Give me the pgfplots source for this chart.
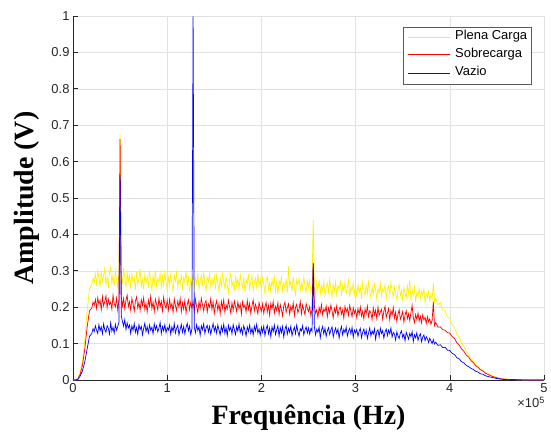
\documentclass[border=0pt]{standalone}
\usepackage{fontspec}
\setmainfont{Liberation Sans}
\newfontfamily\timesfont{Liberation Serif}
\usepackage{pgfplots}
\usepackage{pgfplotstable}
\pgfplotsset{compat=1.18}
\definecolor{axgray}{RGB}{38,38,38}
\definecolor{boxgray}{RGB}{90,90,90}
\definecolor{gridgray}{RGB}{225,225,225}

% f in kHz, y = Plena Carga, r = Sobrecarga, b = Vazio
\pgfplotstableread{
f y r b
0 0 0 0
2.5 0 0 0
5 0.003 0.002 0.001
7.5 0.02 0.015 0.01
10 0.05 0.04 0.025
12.5 0.11 0.085 0.05
15 0.19 0.145 0.085
17.5 0.25 0.19 0.12
20 0.262 0.198 0.128
21.25 0.279 0.214 0.141
22.5 0.268 0.205 0.133
23.75 0.293 0.221 0.149
25 0.259 0.197 0.137
26.25 0.301 0.226 0.128
27.5 0.282 0.208 0.152
28.75 0.255 0.219 0.135
30 0.297 0.193 0.146
31.25 0.271 0.229 0.127
32.5 0.288 0.204 0.154
33.75 0.306 0.216 0.138
35 0.262 0.231 0.131
36.25 0.284 0.199 0.149
37.5 0.252 0.222 0.142
38.75 0.295 0.207 0.126
40 0.311 0.214 0.157
41.25 0.266 0.195 0.134
42.5 0.289 0.233 0.145
43.75 0.258 0.210 0.129
45 0.300 0.201 0.153
46.25 0.274 0.225 0.137
47.5 0.254 0.192 0.147
48.75 0.292 0.218 0.158
50 0.676 0.662 0.563
51.25 0.298 0.229 0.176
52.5 0.263 0.203 0.161
53.75 0.307 0.224 0.148
55 0.281 0.196 0.166
56.25 0.256 0.220 0.139
57.5 0.296 0.233 0.157
58.75 0.270 0.201 0.143
60 0.287 0.215 0.151
61.25 0.251 0.192 0.128
62.5 0.294 0.224 0.149
63.75 0.268 0.209 0.136
65 0.283 0.189 0.155
66.25 0.247 0.217 0.131
67.5 0.299 0.228 0.144
68.75 0.262 0.198 0.126
70 0.280 0.213 0.152
71.25 0.305 0.191 0.139
72.5 0.258 0.221 0.147
73.75 0.276 0.205 0.124
75 0.249 0.226 0.141
76.25 0.291 0.194 0.156
77.5 0.266 0.211 0.133
78.75 0.284 0.187 0.146
80 0.253 0.219 0.129
81.25 0.297 0.203 0.151
82.5 0.272 0.230 0.137
83.75 0.245 0.196 0.145
85 0.288 0.214 0.127
86.25 0.264 0.188 0.154
87.5 0.301 0.222 0.138
88.75 0.257 0.208 0.149
90 0.279 0.193 0.132
91.25 0.268 0.225 0.143
92.5 0.293 0.201 0.158
93.75 0.250 0.216 0.128
95 0.286 0.190 0.147
96.25 0.261 0.227 0.135
97.5 0.296 0.206 0.152
98.75 0.269 0.197 0.130
100 0.248 0.218 0.144
101.25 0.283 0.192 0.137
102.5 0.259 0.221 0.151
103.75 0.292 0.199 0.126
105 0.265 0.210 0.146
106.25 0.244 0.186 0.133
107.5 0.287 0.223 0.155
108.75 0.272 0.204 0.129
110 0.296 0.191 0.142
111.25 0.255 0.217 0.150
112.5 0.278 0.200 0.124
113.75 0.263 0.224 0.139
115 0.290 0.188 0.153
116.25 0.248 0.212 0.131
117.5 0.281 0.195 0.147
118.75 0.269 0.219 0.127
120 0.299 0.184 0.144
121.25 0.257 0.207 0.156
122.5 0.285 0.220 0.135
123.75 0.242 0.193 0.148
125 0.276 0.213 0.125
126.25 0.262 0.198 0.141
127.5 0.291 0.216 1.0
128.75 0.253 0.189 0.145
130 0.280 0.222 0.130
131.25 0.266 0.202 0.152
132.5 0.294 0.185 0.136
133.75 0.250 0.215 0.146
135 0.274 0.197 0.123
136.25 0.288 0.224 0.149
137.5 0.258 0.206 0.138
138.75 0.297 0.190 0.154
140 0.264 0.211 0.128
141.25 0.245 0.218 0.143
142.5 0.283 0.187 0.150
143.75 0.270 0.209 0.132
145 0.292 0.200 0.147
146.25 0.255 0.223 0.126
147.5 0.279 0.194 0.141
148.75 0.261 0.214 0.155
150 0.286 0.183 0.134
151.25 0.249 0.205 0.146
152.5 0.289 0.218 0.129
153.75 0.266 0.191 0.151
155 0.243 0.210 0.137
156.25 0.281 0.182 0.124
157.5 0.258 0.216 0.148
158.75 0.292 0.198 0.133
160 0.270 0.220 0.153
161.25 0.251 0.186 0.128
162.5 0.284 0.207 0.144
163.75 0.262 0.195 0.122
165 0.239 0.219 0.150
166.25 0.277 0.201 0.136
167.5 0.294 0.184 0.145
168.75 0.256 0.212 0.127
170 0.272 0.192 0.152
171.25 0.245 0.217 0.139
172.5 0.287 0.203 0.125
173.75 0.260 0.188 0.147
175 0.279 0.214 0.134
176.25 0.247 0.196 0.154
177.5 0.290 0.209 0.130
178.75 0.268 0.181 0.143
180 0.253 0.215 0.126
181.25 0.283 0.199 0.149
182.5 0.241 0.206 0.137
183.75 0.275 0.187 0.121
185 0.263 0.218 0.146
186.25 0.291 0.194 0.133
187.5 0.250 0.211 0.151
188.75 0.271 0.183 0.128
190 0.286 0.204 0.142
191.25 0.244 0.220 0.124
192.5 0.267 0.190 0.148
193.75 0.280 0.208 0.135
195 0.255 0.197 0.153
196.25 0.293 0.182 0.129
197.5 0.259 0.213 0.140
198.75 0.276 0.200 0.123
200 0.248 0.189 0.145
201.25 0.281 0.209 0.131
202.5 0.262 0.183 0.148
203.75 0.238 0.201 0.122
205 0.273 0.213 0.140
206.25 0.285 0.187 0.150
207.5 0.249 0.205 0.127
208.75 0.267 0.178 0.143
210 0.240 0.211 0.119
211.25 0.278 0.196 0.146
212.5 0.256 0.215 0.133
213.75 0.283 0.184 0.151
215 0.244 0.202 0.125
216.25 0.269 0.191 0.138
217.5 0.235 0.212 0.149
218.75 0.274 0.180 0.121
220 0.261 0.207 0.144
221.25 0.282 0.193 0.130
222.5 0.246 0.176 0.147
223.75 0.266 0.204 0.118
225 0.252 0.214 0.139
226.25 0.279 0.186 0.150
227.5 0.238 0.198 0.126
228.75 0.312 0.209 0.142
230 0.258 0.181 0.131
231.25 0.271 0.203 0.148
232.5 0.242 0.190 0.122
233.75 0.284 0.212 0.136
235 0.255 0.177 0.145
236.25 0.236 0.200 0.127
237.5 0.276 0.208 0.151
238.75 0.263 0.185 0.133
240 0.280 0.195 0.120
241.25 0.245 0.215 0.141
242.5 0.268 0.182 0.135
243.75 0.250 0.206 0.149
245 0.283 0.193 0.124
246.25 0.260 0.179 0.137
247.5 0.241 0.210 0.146
248.75 0.272 0.197 0.129
250 0.254 0.188 0.143
251.25 0.274 0.202 0.126
252.5 0.238 0.176 0.141
253.75 0.262 0.196 0.134
255 0.440 0.322 0.320
256.25 0.257 0.205 0.146
257.5 0.229 0.183 0.124
258.75 0.268 0.193 0.139
260 0.247 0.172 0.131
261.25 0.276 0.199 0.145
262.5 0.236 0.186 0.116
263.75 0.259 0.207 0.137
265 0.244 0.179 0.147
266.25 0.271 0.195 0.127
267.5 0.232 0.188 0.142
268.75 0.255 0.203 0.120
270 0.267 0.174 0.135
271.25 0.241 0.198 0.144
272.5 0.277 0.184 0.125
273.75 0.250 0.206 0.138
275 0.228 0.190 0.146
276.25 0.263 0.171 0.118
277.5 0.245 0.197 0.133
278.75 0.270 0.185 0.143
280 0.234 0.204 0.128
281.25 0.258 0.176 0.140
282.5 0.248 0.194 0.115
283.75 0.274 0.200 0.136
285 0.231 0.181 0.147
286.25 0.261 0.193 0.124
287.5 0.243 0.170 0.139
288.75 0.269 0.202 0.130
290 0.238 0.187 0.145
291.25 0.252 0.196 0.121
292.5 0.275 0.178 0.134
293.75 0.229 0.205 0.142
295 0.256 0.189 0.127
296.25 0.246 0.174 0.144
297.5 0.266 0.198 0.117
298.75 0.235 0.183 0.137
300 0.259 0.192 0.129
301.25 0.227 0.171 0.139
302.5 0.263 0.196 0.120
303.75 0.240 0.180 0.134
305 0.255 0.201 0.142
306.25 0.222 0.176 0.116
307.5 0.268 0.189 0.131
308.75 0.247 0.168 0.140
310 0.233 0.195 0.123
311.25 0.259 0.182 0.137
312.5 0.238 0.203 0.114
313.75 0.270 0.174 0.129
315 0.244 0.190 0.143
316.25 0.225 0.185 0.121
317.5 0.257 0.166 0.135
318.75 0.236 0.198 0.126
320 0.264 0.179 0.141
321.25 0.249 0.192 0.112
322.5 0.221 0.169 0.133
323.75 0.253 0.200 0.138
325 0.239 0.177 0.119
326.25 0.266 0.187 0.142
327.5 0.230 0.194 0.128
328.75 0.251 0.167 0.136
330 0.242 0.189 0.115
331.25 0.261 0.202 0.132
332.5 0.224 0.172 0.140
333.75 0.248 0.184 0.122
335 0.258 0.196 0.137
336.25 0.233 0.165 0.127
337.5 0.267 0.191 0.143
338.75 0.245 0.178 0.118
340 0.228 0.199 0.131
341.25 0.256 0.170 0.126
342.5 0.237 0.186 0.110
343.75 0.220 0.161 0.132
345 0.249 0.181 0.121
346.25 0.262 0.193 0.114
347.5 0.231 0.167 0.129
348.75 0.245 0.176 0.135
350 0.216 0.188 0.117
351.25 0.253 0.159 0.126
352.5 0.240 0.178 0.108
353.75 0.225 0.190 0.131
355 0.258 0.169 0.122
356.25 0.236 0.182 0.112
357.5 0.275 0.163 0.128
358.75 0.219 0.185 0.119
360 0.247 0.205 0.133
361.25 0.233 0.172 0.106
362.5 0.255 0.158 0.124
363.75 0.214 0.180 0.116
365 0.241 0.166 0.130
366.25 0.229 0.184 0.109
367.5 0.252 0.162 0.121
368.75 0.223 0.175 0.127
370 0.243 0.157 0.105
371.25 0.234 0.179 0.118
372.5 0.250 0.165 0.124
373.75 0.213 0.172 0.108
375 0.239 0.156 0.119
376.25 0.227 0.174 0.113
377.5 0.244 0.160 0.103
378.75 0.218 0.168 0.115
380 0.235 0.153 0.107
381.25 0.222 0.164 0.100
382.5 0.268 0.215 0.111
383.75 0.214 0.150 0.099
385 0.226 0.158 0.104
387.5 0.207 0.145 0.095
390 0.213 0.146 0.097
392.5 0.193 0.138 0.089
395 0.190 0.137 0.090
397.5 0.172 0.130 0.082
400 0.170 0.129 0.081
402.5 0.151 0.119 0.073
405 0.145 0.114 0.070
407.5 0.126 0.102 0.061
410 0.117 0.096 0.058
412.5 0.100 0.085 0.050
415 0.093 0.079 0.047
417.5 0.079 0.068 0.040
420 0.069 0.063 0.037
422.5 0.058 0.053 0.032
425 0.051 0.048 0.029
427.5 0.043 0.039 0.024
430 0.037 0.035 0.022
432.5 0.030 0.028 0.017
435 0.027 0.025 0.016
437.5 0.021 0.019 0.012
440 0.018 0.016 0.010
445 0.012 0.010 0.007
450 0.007 0.006 0.004
455 0.004 0.003 0.002
460 0.002 0.002 0.001
470 0.001 0.001 0.0005
480 0 0 0
500 0 0 0
}\spectra

\begin{document}
\begin{tikzpicture}
\begin{axis}[
    width=471bp, height=364bp, scale only axis,
    xmin=0, xmax=5, ymin=0, ymax=1,
    xtick={0,1,2,3,4,5},
    ytick={0,0.1,0.2,0.3,0.4,0.5,0.6,0.7,0.8,0.9,1},
    scaled x ticks=false,
    axis x line*=bottom, axis y line*=left,
    axis line style={-, axgray, line width=0.6bp},
    tick style={axgray, line width=0.6bp},
    major tick length=5bp, tick align=inside,
    grid=major, major grid style={gridgray, line width=0.5bp},
    /pgf/number format/assume math mode=true,
    tick label style={font=\fontsize{13}{13}\selectfont, text=axgray},
    xlabel={Frequência (Hz)}, ylabel={Amplitude (V)},
    every axis x label/.style={at={(axis description cs:0.5,-0.1236)}, anchor=base,
        font=\timesfont\bfseries\fontsize{28}{28}\selectfont},
    every axis y label/.style={at={(axis description cs:-0.0849,0.5)}, rotate=90, anchor=base,
        font=\timesfont\bfseries\fontsize{28}{28}\selectfont},
    no marks,
]
\addplot[draw=yellow, line width=0.7bp] table[x expr=\thisrow{f}/100, y=y] {\spectra};
\addplot[draw=red, line width=0.7bp] table[x expr=\thisrow{f}/100, y=r] {\spectra};
\addplot[draw=blue, line width=0.7bp] table[x expr=\thisrow{f}/100, y=b] {\spectra};
% legend box, drawn by hand
\draw[boxgray, fill=white, line width=0.6bp]
    (rel axis cs:0.7006,0.8132) rectangle (rel axis cs:0.9724,0.9698);
\draw[yellow, line width=1bp] (rel axis cs:0.7106,0.9415) -- (rel axis cs:0.8004,0.9415);
\draw[red, line width=1bp] (rel axis cs:0.7106,0.8929) -- (rel axis cs:0.8004,0.8929);
\draw[blue, line width=1bp] (rel axis cs:0.7106,0.8426) -- (rel axis cs:0.8004,0.8426);
\path[font=\fontsize{13}{13}\selectfont, inner sep=0pt]
    (rel axis cs:0.8110,0.9415) node[anchor=mid west] {Plena Carga}
    (rel axis cs:0.8110,0.8929) node[anchor=mid west] {Sobrecarga}
    (rel axis cs:0.8110,0.8426) node[anchor=mid west] {Vazio};
\coordinate (sw) at (rel axis cs:0,0);
\coordinate (se) at (rel axis cs:1,0);
\coordinate (ne) at (rel axis cs:1,1);
\end{axis}
\node[anchor=north east, inner sep=0pt, font=\fontsize{13}{13}\selectfont, text=axgray]
    at ([xshift=1bp,yshift=-17bp]se) {×10\textsuperscript{5}};
\pgfresetboundingbox
\path ([xshift=-73bp,yshift=-60bp]sw) rectangle ([xshift=7bp,yshift=16bp]ne);
\end{tikzpicture}
\end{document}
